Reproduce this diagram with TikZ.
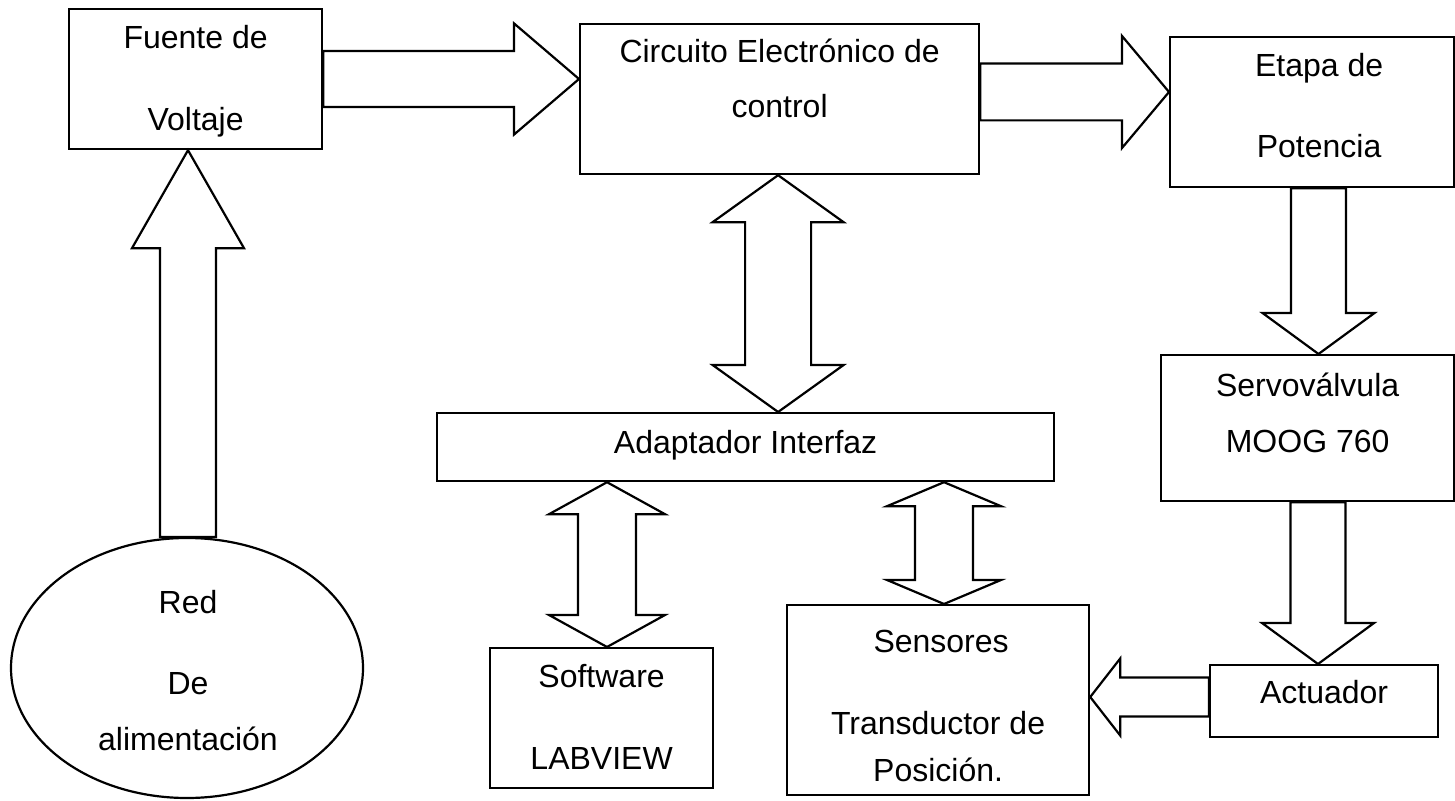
\documentclass[tikz,border=0pt]{standalone}
\usepackage{fontspec}
\setmainfont{Liberation Sans}
\usetikzlibrary{calc,shapes.geometric}

\tikzset{
  blk/.style={draw=black, line width=1.1pt, fill=white, line join=miter},
  box/.style={draw=black, line width=1.1pt, rectangle, inner sep=0pt, anchor=north west},
  lbl/.style={anchor=base, inner sep=0pt, font=\fontsize{16pt}{19pt}\selectfont},
}

% horizontal block arrow: shaft leaves at the x of #1, tip at #2;
% #3 shaft half-width, #4 head half-width, #5 head length (signed along x)
\newcommand\hblock[5]{%
  \draw[blk] let \p1=#1, \p2=#2 in
    ({\x1},{\y2+#3}) -- ({\x2-(#5)},{\y2+#3}) -- ({\x2-(#5)},{\y2+#4}) -- (\x2,\y2)
    -- ({\x2-(#5)},{\y2-#4}) -- ({\x2-(#5)},{\y2-#3}) -- ({\x1},{\y2-#3}) -- cycle;}

% vertical block arrow: shaft leaves at the y of #1, tip at #2;
% #5 signed head length (positive when the arrow points down)
\newcommand\vblock[5]{%
  \draw[blk] let \p1=#1, \p2=#2 in
    ({\x2+#3},{\y1}) -- ({\x2+#3},{\y2+(#5)}) -- ({\x2+#4},{\y2+(#5)}) -- (\x2,\y2)
    -- ({\x2-#4},{\y2+(#5)}) -- ({\x2-#3},{\y2+(#5)}) -- ({\x2-#3},{\y1}) -- cycle;}

% double-headed vertical block arrow: upper tip #1, lower tip at the y of #2
\newcommand\vvblock[5]{%
  \draw[blk] let \p1=#1, \p2=#2 in
    (\x1,\y1) -- ({\x1+#4},{\y1-#5}) -- ({\x1+#3},{\y1-#5}) -- ({\x1+#3},{\y2+#5})
    -- ({\x1+#4},{\y2+#5}) -- (\x1,\y2) -- ({\x1-#4},{\y2+#5}) -- ({\x1-#3},{\y2+#5})
    -- ({\x1-#3},{\y1-#5}) -- ({\x1-#4},{\y1-#5}) -- cycle;}

\begin{document}
\begin{tikzpicture}[x=0.5pt,y=-0.5pt]
\useasboundingbox (0,0) rectangle (1455,801);

% blocks
\node[box, minimum width=126.5pt, minimum height=70pt]   (fuente) at (68,8) {};
\node[box, minimum width=199.5pt, minimum height=75pt]   (circ)   at (579,23) {};
\node[box, minimum width=142pt,   minimum height=75pt]   (etapa)  at (1169,36) {};
\node[box, minimum width=146.5pt, minimum height=73pt]   (servo)  at (1160,354) {};
\node[box, minimum width=114pt,   minimum height=36pt]   (act)    at (1209,664) {};
\node[box, minimum width=151pt,   minimum height=95pt]   (sens)   at (786,604) {};
\node[box, minimum width=111.5pt, minimum height=70pt]   (soft)   at (489,647) {};
\node[box, minimum width=308.5pt, minimum height=34pt]   (adapt)  at (436,412) {};
\node[draw=black, line width=1.1pt, ellipse, inner sep=0pt,
      minimum width=176pt, minimum height=130pt] (red) at (187,668) {};

% texts
\node[lbl] (fuenteA) at ($(fuente.north)+(0,41)$)  {Fuente de};
\node[lbl] (fuenteB) at ($(fuente.north)+(0,123)$) {Voltaje};
\node[lbl] (circA)   at ($(circ.north)+(0,40)$)    {Circuito Electrónico de};
\node[lbl] (circB)   at ($(circ.north)+(0,95)$)    {control};
\node[lbl] (etapaA)  at ($(etapa.north)+(7,41)$)   {Etapa de};
\node[lbl] (etapaB)  at ($(etapa.north)+(7,122)$)  {Potencia};
\node[lbl] (servoA)  at ($(servo.north)+(0,43)$)   {Servoválvula};
\node[lbl] (servoB)  at ($(servo.north)+(0,99)$)   {MOOG 760};
\node[lbl] (actA)    at ($(act.north)+(0,39)$)     {Actuador};
\node[lbl] (sensA)   at ($(sens.north)+(3,48)$)    {Sensores};
\node[lbl] (sensB)   at ($(sens.north)+(0,130)$)   {Transductor de};
\node[lbl] (sensC)   at ($(sens.north)+(0,177)$)   {Posición.};
\node[lbl] (softA)   at ($(soft.north)+(0,40)$)    {Software};
\node[lbl] (softB)   at ($(soft.north)+(0,122)$)   {LABVIEW};
\node[lbl] (adaptA)  at ($(adapt.north)+(0,42)$)   {Adaptador Interfaz};
\node[lbl] (redA)    at ($(red.north)+(1,77)$)     {Red};
\node[lbl] (redB)    at ($(red.north)+(1,158)$)    {De};
\node[lbl] (redC)    at ($(red.north)+(1,214)$)    {alimentación};

% block arrows
\hblock{(fuente.east)}{($(circ.north west)+(0,56)$)}{14pt}{27.8pt}{32.5pt}
\hblock{(circ.east)}{($(etapa.north west)+(0,56)$)}{14.2pt}{28pt}{23.5pt}
\vblock{(etapa.south)}{($(servo.north west)+(158.5,0)$)}{13.75pt}{28pt}{20.5pt}
\vblock{(servo.south)}{($(act.north west)+(109,0)$)}{13.75pt}{28pt}{20.5pt}
\hblock{(act.west)}{($(sens.north east)+(0,93)$)}{9.75pt}{19.25pt}{-15pt}
\vblock{(red.north)}{($(fuente.south west)+(120,0)$)}{14pt}{28pt}{-49pt}
\vvblock{($(circ.south)+(-1.5,0)$)}{(adapt.north)}{16.5pt}{32.75pt}{23.5pt}
\vvblock{($(adapt.south west)+(171,0)$)}{(soft.north)}{14.5pt}{29pt}{16pt}
\vvblock{($(adapt.south west)+(508,0)$)}{(sens.north)}{14.5pt}{28.5pt}{12pt}
\end{tikzpicture}
\end{document}
